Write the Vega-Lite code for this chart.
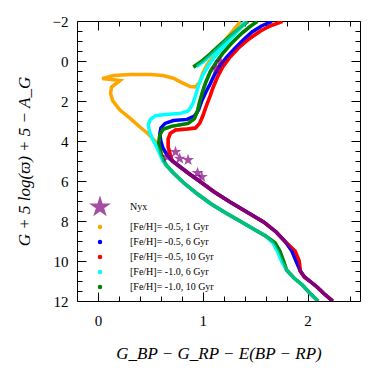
{
  "$schema": "https://vega.github.io/schema/vega-lite/v6.json",
  "width": 283,
  "height": 280,
  "autosize": {"type": "none"},
  "padding": {"left": 77, "top": 21, "right": 14, "bottom": 73},
  "config": {
    "view": {"stroke": "black", "strokeWidth": 1},
    "font": "Liberation Serif",
    "axis": {
      "domain": false, "grid": false, "tickColor": "black", "tickWidth": 1, "zindex": 1,
      "labelFont": "Liberation Serif", "labelFontSize": 15, "labelColor": "black",
      "titleFont": "Liberation Serif", "titleFontSize": 17, "titleColor": "black", "titleFontWeight": "normal",
      "labelOverlap": false, "labelFlush": false, "labelBound": false
    }
  },
  "datasets": {
    "iso1": [
      {"series":"[Fe/H]= -0.5, 1 Gyr","bprp":2.24,"mg":12.0},
      {"series":"[Fe/H]= -0.5, 1 Gyr","bprp":2.16,"mg":11.65},
      {"series":"[Fe/H]= -0.5, 1 Gyr","bprp":2.09,"mg":11.3},
      {"series":"[Fe/H]= -0.5, 1 Gyr","bprp":2.02,"mg":11.0},
      {"series":"[Fe/H]= -0.5, 1 Gyr","bprp":1.97,"mg":10.8},
      {"series":"[Fe/H]= -0.5, 1 Gyr","bprp":1.93,"mg":10.5},
      {"series":"[Fe/H]= -0.5, 1 Gyr","bprp":1.89,"mg":10.0},
      {"series":"[Fe/H]= -0.5, 1 Gyr","bprp":1.85,"mg":9.5},
      {"series":"[Fe/H]= -0.5, 1 Gyr","bprp":1.79,"mg":9.05},
      {"series":"[Fe/H]= -0.5, 1 Gyr","bprp":1.70,"mg":8.55},
      {"series":"[Fe/H]= -0.5, 1 Gyr","bprp":1.58,"mg":8.05},
      {"series":"[Fe/H]= -0.5, 1 Gyr","bprp":1.42,"mg":7.55},
      {"series":"[Fe/H]= -0.5, 1 Gyr","bprp":1.26,"mg":7.05},
      {"series":"[Fe/H]= -0.5, 1 Gyr","bprp":1.11,"mg":6.55},
      {"series":"[Fe/H]= -0.5, 1 Gyr","bprp":0.98,"mg":6.05},
      {"series":"[Fe/H]= -0.5, 1 Gyr","bprp":0.86,"mg":5.6},
      {"series":"[Fe/H]= -0.5, 1 Gyr","bprp":0.76,"mg":5.2},
      {"series":"[Fe/H]= -0.5, 1 Gyr","bprp":0.71,"mg":5.0},
      {"series":"[Fe/H]= -0.5, 1 Gyr","bprp":0.66,"mg":4.7},
      {"series":"[Fe/H]= -0.5, 1 Gyr","bprp":0.60,"mg":4.3},
      {"series":"[Fe/H]= -0.5, 1 Gyr","bprp":0.53,"mg":3.92},
      {"series":"[Fe/H]= -0.5, 1 Gyr","bprp":0.47,"mg":3.6},
      {"series":"[Fe/H]= -0.5, 1 Gyr","bprp":0.40,"mg":3.3},
      {"series":"[Fe/H]= -0.5, 1 Gyr","bprp":0.31,"mg":2.88},
      {"series":"[Fe/H]= -0.5, 1 Gyr","bprp":0.21,"mg":2.45},
      {"series":"[Fe/H]= -0.5, 1 Gyr","bprp":0.14,"mg":1.98},
      {"series":"[Fe/H]= -0.5, 1 Gyr","bprp":0.12,"mg":1.62},
      {"series":"[Fe/H]= -0.5, 1 Gyr","bprp":0.13,"mg":1.3},
      {"series":"[Fe/H]= -0.5, 1 Gyr","bprp":0.21,"mg":0.98},
      {"series":"[Fe/H]= -0.5, 1 Gyr","bprp":0.04,"mg":0.88},
      {"series":"[Fe/H]= -0.5, 1 Gyr","bprp":0.15,"mg":0.73},
      {"series":"[Fe/H]= -0.5, 1 Gyr","bprp":0.31,"mg":0.68},
      {"series":"[Fe/H]= -0.5, 1 Gyr","bprp":0.50,"mg":0.68},
      {"series":"[Fe/H]= -0.5, 1 Gyr","bprp":0.62,"mg":0.73},
      {"series":"[Fe/H]= -0.5, 1 Gyr","bprp":0.72,"mg":0.86},
      {"series":"[Fe/H]= -0.5, 1 Gyr","bprp":0.80,"mg":1.08},
      {"series":"[Fe/H]= -0.5, 1 Gyr","bprp":0.88,"mg":1.28},
      {"series":"[Fe/H]= -0.5, 1 Gyr","bprp":0.93,"mg":1.3},
      {"series":"[Fe/H]= -0.5, 1 Gyr","bprp":0.97,"mg":1.05},
      {"series":"[Fe/H]= -0.5, 1 Gyr","bprp":1.00,"mg":0.6},
      {"series":"[Fe/H]= -0.5, 1 Gyr","bprp":1.04,"mg":0.2},
      {"series":"[Fe/H]= -0.5, 1 Gyr","bprp":1.10,"mg":-0.23},
      {"series":"[Fe/H]= -0.5, 1 Gyr","bprp":1.17,"mg":-0.7},
      {"series":"[Fe/H]= -0.5, 1 Gyr","bprp":1.23,"mg":-1.15},
      {"series":"[Fe/H]= -0.5, 1 Gyr","bprp":1.30,"mg":-1.6},
      {"series":"[Fe/H]= -0.5, 1 Gyr","bprp":1.36,"mg":-1.98}
    ],
    "iso6": [
      {"series":"[Fe/H]= -0.5, 6 Gyr","bprp":2.24,"mg":12.0},
      {"series":"[Fe/H]= -0.5, 6 Gyr","bprp":2.16,"mg":11.65},
      {"series":"[Fe/H]= -0.5, 6 Gyr","bprp":2.09,"mg":11.3},
      {"series":"[Fe/H]= -0.5, 6 Gyr","bprp":2.02,"mg":11.0},
      {"series":"[Fe/H]= -0.5, 6 Gyr","bprp":1.97,"mg":10.8},
      {"series":"[Fe/H]= -0.5, 6 Gyr","bprp":1.93,"mg":10.5},
      {"series":"[Fe/H]= -0.5, 6 Gyr","bprp":1.89,"mg":10.0},
      {"series":"[Fe/H]= -0.5, 6 Gyr","bprp":1.85,"mg":9.5},
      {"series":"[Fe/H]= -0.5, 6 Gyr","bprp":1.79,"mg":9.05},
      {"series":"[Fe/H]= -0.5, 6 Gyr","bprp":1.70,"mg":8.55},
      {"series":"[Fe/H]= -0.5, 6 Gyr","bprp":1.58,"mg":8.05},
      {"series":"[Fe/H]= -0.5, 6 Gyr","bprp":1.42,"mg":7.55},
      {"series":"[Fe/H]= -0.5, 6 Gyr","bprp":1.26,"mg":7.05},
      {"series":"[Fe/H]= -0.5, 6 Gyr","bprp":1.11,"mg":6.55},
      {"series":"[Fe/H]= -0.5, 6 Gyr","bprp":0.98,"mg":6.05},
      {"series":"[Fe/H]= -0.5, 6 Gyr","bprp":0.86,"mg":5.6},
      {"series":"[Fe/H]= -0.5, 6 Gyr","bprp":0.76,"mg":5.2},
      {"series":"[Fe/H]= -0.5, 6 Gyr","bprp":0.71,"mg":5.0},
      {"series":"[Fe/H]= -0.5, 6 Gyr","bprp":0.66,"mg":4.7},
      {"series":"[Fe/H]= -0.5, 6 Gyr","bprp":0.62,"mg":4.35},
      {"series":"[Fe/H]= -0.5, 6 Gyr","bprp":0.60,"mg":4.0},
      {"series":"[Fe/H]= -0.5, 6 Gyr","bprp":0.59,"mg":3.65},
      {"series":"[Fe/H]= -0.5, 6 Gyr","bprp":0.60,"mg":3.35},
      {"series":"[Fe/H]= -0.5, 6 Gyr","bprp":0.64,"mg":3.12},
      {"series":"[Fe/H]= -0.5, 6 Gyr","bprp":0.72,"mg":2.98},
      {"series":"[Fe/H]= -0.5, 6 Gyr","bprp":0.85,"mg":2.92},
      {"series":"[Fe/H]= -0.5, 6 Gyr","bprp":0.92,"mg":2.75},
      {"series":"[Fe/H]= -0.5, 6 Gyr","bprp":0.96,"mg":2.45},
      {"series":"[Fe/H]= -0.5, 6 Gyr","bprp":0.99,"mg":2.0},
      {"series":"[Fe/H]= -0.5, 6 Gyr","bprp":1.03,"mg":1.55},
      {"series":"[Fe/H]= -0.5, 6 Gyr","bprp":1.07,"mg":1.15},
      {"series":"[Fe/H]= -0.5, 6 Gyr","bprp":1.11,"mg":0.7},
      {"series":"[Fe/H]= -0.5, 6 Gyr","bprp":1.16,"mg":0.25},
      {"series":"[Fe/H]= -0.5, 6 Gyr","bprp":1.23,"mg":-0.2},
      {"series":"[Fe/H]= -0.5, 6 Gyr","bprp":1.31,"mg":-0.65},
      {"series":"[Fe/H]= -0.5, 6 Gyr","bprp":1.39,"mg":-1.08},
      {"series":"[Fe/H]= -0.5, 6 Gyr","bprp":1.47,"mg":-1.45},
      {"series":"[Fe/H]= -0.5, 6 Gyr","bprp":1.56,"mg":-1.75},
      {"series":"[Fe/H]= -0.5, 6 Gyr","bprp":1.66,"mg":-1.98}
    ],
    "iso10": [
      {"series":"[Fe/H]= -0.5, 10 Gyr","bprp":2.24,"mg":12.0},
      {"series":"[Fe/H]= -0.5, 10 Gyr","bprp":2.16,"mg":11.65},
      {"series":"[Fe/H]= -0.5, 10 Gyr","bprp":2.09,"mg":11.3},
      {"series":"[Fe/H]= -0.5, 10 Gyr","bprp":2.02,"mg":11.0},
      {"series":"[Fe/H]= -0.5, 10 Gyr","bprp":1.97,"mg":10.8},
      {"series":"[Fe/H]= -0.5, 10 Gyr","bprp":1.93,"mg":10.5},
      {"series":"[Fe/H]= -0.5, 10 Gyr","bprp":1.92,"mg":10.0},
      {"series":"[Fe/H]= -0.5, 10 Gyr","bprp":1.88,"mg":9.5},
      {"series":"[Fe/H]= -0.5, 10 Gyr","bprp":1.79,"mg":9.05},
      {"series":"[Fe/H]= -0.5, 10 Gyr","bprp":1.70,"mg":8.55},
      {"series":"[Fe/H]= -0.5, 10 Gyr","bprp":1.58,"mg":8.05},
      {"series":"[Fe/H]= -0.5, 10 Gyr","bprp":1.42,"mg":7.55},
      {"series":"[Fe/H]= -0.5, 10 Gyr","bprp":1.26,"mg":7.05},
      {"series":"[Fe/H]= -0.5, 10 Gyr","bprp":1.11,"mg":6.55},
      {"series":"[Fe/H]= -0.5, 10 Gyr","bprp":0.98,"mg":6.05},
      {"series":"[Fe/H]= -0.5, 10 Gyr","bprp":0.86,"mg":5.6},
      {"series":"[Fe/H]= -0.5, 10 Gyr","bprp":0.76,"mg":5.2},
      {"series":"[Fe/H]= -0.5, 10 Gyr","bprp":0.71,"mg":5.0},
      {"series":"[Fe/H]= -0.5, 10 Gyr","bprp":0.69,"mg":4.7},
      {"series":"[Fe/H]= -0.5, 10 Gyr","bprp":0.67,"mg":4.3},
      {"series":"[Fe/H]= -0.5, 10 Gyr","bprp":0.67,"mg":3.9},
      {"series":"[Fe/H]= -0.5, 10 Gyr","bprp":0.69,"mg":3.62},
      {"series":"[Fe/H]= -0.5, 10 Gyr","bprp":0.74,"mg":3.45},
      {"series":"[Fe/H]= -0.5, 10 Gyr","bprp":0.85,"mg":3.4},
      {"series":"[Fe/H]= -0.5, 10 Gyr","bprp":0.93,"mg":3.35},
      {"series":"[Fe/H]= -0.5, 10 Gyr","bprp":0.97,"mg":3.12},
      {"series":"[Fe/H]= -0.5, 10 Gyr","bprp":1.00,"mg":2.75},
      {"series":"[Fe/H]= -0.5, 10 Gyr","bprp":1.03,"mg":2.3},
      {"series":"[Fe/H]= -0.5, 10 Gyr","bprp":1.07,"mg":1.75},
      {"series":"[Fe/H]= -0.5, 10 Gyr","bprp":1.10,"mg":1.3},
      {"series":"[Fe/H]= -0.5, 10 Gyr","bprp":1.14,"mg":0.8},
      {"series":"[Fe/H]= -0.5, 10 Gyr","bprp":1.19,"mg":0.3},
      {"series":"[Fe/H]= -0.5, 10 Gyr","bprp":1.26,"mg":-0.2},
      {"series":"[Fe/H]= -0.5, 10 Gyr","bprp":1.34,"mg":-0.65},
      {"series":"[Fe/H]= -0.5, 10 Gyr","bprp":1.44,"mg":-1.1},
      {"series":"[Fe/H]= -0.5, 10 Gyr","bprp":1.55,"mg":-1.5},
      {"series":"[Fe/H]= -0.5, 10 Gyr","bprp":1.64,"mg":-1.75},
      {"series":"[Fe/H]= -0.5, 10 Gyr","bprp":1.76,"mg":-1.98}
    ],
    "isoc": [
      {"series":"[Fe/H]= -1.0, 6 Gyr","branch":"rgb","bprp":2.10,"mg":12.0},
      {"series":"[Fe/H]= -1.0, 6 Gyr","branch":"rgb","bprp":2.02,"mg":11.6},
      {"series":"[Fe/H]= -1.0, 6 Gyr","branch":"rgb","bprp":1.95,"mg":11.2},
      {"series":"[Fe/H]= -1.0, 6 Gyr","branch":"rgb","bprp":1.87,"mg":10.85},
      {"series":"[Fe/H]= -1.0, 6 Gyr","branch":"rgb","bprp":1.80,"mg":10.45},
      {"series":"[Fe/H]= -1.0, 6 Gyr","branch":"rgb","bprp":1.75,"mg":10.0},
      {"series":"[Fe/H]= -1.0, 6 Gyr","branch":"rgb","bprp":1.71,"mg":9.5},
      {"series":"[Fe/H]= -1.0, 6 Gyr","branch":"rgb","bprp":1.67,"mg":9.1},
      {"series":"[Fe/H]= -1.0, 6 Gyr","branch":"rgb","bprp":1.60,"mg":8.75},
      {"series":"[Fe/H]= -1.0, 6 Gyr","branch":"rgb","bprp":1.50,"mg":8.45},
      {"series":"[Fe/H]= -1.0, 6 Gyr","branch":"rgb","bprp":1.37,"mg":8.05},
      {"series":"[Fe/H]= -1.0, 6 Gyr","branch":"rgb","bprp":1.22,"mg":7.6},
      {"series":"[Fe/H]= -1.0, 6 Gyr","branch":"rgb","bprp":1.08,"mg":7.15},
      {"series":"[Fe/H]= -1.0, 6 Gyr","branch":"rgb","bprp":0.95,"mg":6.65},
      {"series":"[Fe/H]= -1.0, 6 Gyr","branch":"rgb","bprp":0.82,"mg":6.1},
      {"series":"[Fe/H]= -1.0, 6 Gyr","branch":"rgb","bprp":0.72,"mg":5.6},
      {"series":"[Fe/H]= -1.0, 6 Gyr","branch":"rgb","bprp":0.65,"mg":5.2},
      {"series":"[Fe/H]= -1.0, 6 Gyr","branch":"rgb","bprp":0.62,"mg":5.0},
      {"series":"[Fe/H]= -1.0, 6 Gyr","branch":"rgb","bprp":0.59,"mg":4.65},
      {"series":"[Fe/H]= -1.0, 6 Gyr","branch":"rgb","bprp":0.56,"mg":4.3},
      {"series":"[Fe/H]= -1.0, 6 Gyr","branch":"rgb","bprp":0.52,"mg":3.9},
      {"series":"[Fe/H]= -1.0, 6 Gyr","branch":"rgb","bprp":0.49,"mg":3.5},
      {"series":"[Fe/H]= -1.0, 6 Gyr","branch":"rgb","bprp":0.48,"mg":3.2},
      {"series":"[Fe/H]= -1.0, 6 Gyr","branch":"rgb","bprp":0.50,"mg":2.92},
      {"series":"[Fe/H]= -1.0, 6 Gyr","branch":"rgb","bprp":0.55,"mg":2.74},
      {"series":"[Fe/H]= -1.0, 6 Gyr","branch":"rgb","bprp":0.64,"mg":2.68},
      {"series":"[Fe/H]= -1.0, 6 Gyr","branch":"rgb","bprp":0.78,"mg":2.63},
      {"series":"[Fe/H]= -1.0, 6 Gyr","branch":"rgb","bprp":0.86,"mg":2.5},
      {"series":"[Fe/H]= -1.0, 6 Gyr","branch":"rgb","bprp":0.90,"mg":2.2},
      {"series":"[Fe/H]= -1.0, 6 Gyr","branch":"rgb","bprp":0.93,"mg":1.75},
      {"series":"[Fe/H]= -1.0, 6 Gyr","branch":"rgb","bprp":0.96,"mg":1.2},
      {"series":"[Fe/H]= -1.0, 6 Gyr","branch":"rgb","bprp":1.00,"mg":0.7},
      {"series":"[Fe/H]= -1.0, 6 Gyr","branch":"rgb","bprp":1.05,"mg":0.25},
      {"series":"[Fe/H]= -1.0, 6 Gyr","branch":"rgb","bprp":1.12,"mg":-0.25},
      {"series":"[Fe/H]= -1.0, 6 Gyr","branch":"rgb","bprp":1.21,"mg":-0.78},
      {"series":"[Fe/H]= -1.0, 6 Gyr","branch":"rgb","bprp":1.30,"mg":-1.3},
      {"series":"[Fe/H]= -1.0, 6 Gyr","branch":"rgb","bprp":1.36,"mg":-1.65},
      {"series":"[Fe/H]= -1.0, 6 Gyr","branch":"rgb","bprp":1.42,"mg":-1.98},
      {"series":"[Fe/H]= -1.0, 6 Gyr","branch":"agb","bprp":0.94,"mg":0.28},
      {"series":"[Fe/H]= -1.0, 6 Gyr","branch":"agb","bprp":1.01,"mg":0.02},
      {"series":"[Fe/H]= -1.0, 6 Gyr","branch":"agb","bprp":1.10,"mg":-0.4},
      {"series":"[Fe/H]= -1.0, 6 Gyr","branch":"agb","bprp":1.19,"mg":-0.85},
      {"series":"[Fe/H]= -1.0, 6 Gyr","branch":"agb","bprp":1.28,"mg":-1.3},
      {"series":"[Fe/H]= -1.0, 6 Gyr","branch":"agb","bprp":1.36,"mg":-1.7},
      {"series":"[Fe/H]= -1.0, 6 Gyr","branch":"agb","bprp":1.40,"mg":-1.98}
    ],
    "isog": [
      {"series":"[Fe/H]= -1.0, 10 Gyr","branch":"rgb","bprp":2.10,"mg":12.0},
      {"series":"[Fe/H]= -1.0, 10 Gyr","branch":"rgb","bprp":2.02,"mg":11.6},
      {"series":"[Fe/H]= -1.0, 10 Gyr","branch":"rgb","bprp":1.95,"mg":11.2},
      {"series":"[Fe/H]= -1.0, 10 Gyr","branch":"rgb","bprp":1.87,"mg":10.85},
      {"series":"[Fe/H]= -1.0, 10 Gyr","branch":"rgb","bprp":1.80,"mg":10.45},
      {"series":"[Fe/H]= -1.0, 10 Gyr","branch":"rgb","bprp":1.77,"mg":10.0},
      {"series":"[Fe/H]= -1.0, 10 Gyr","branch":"rgb","bprp":1.735,"mg":9.5},
      {"series":"[Fe/H]= -1.0, 10 Gyr","branch":"rgb","bprp":1.69,"mg":9.1},
      {"series":"[Fe/H]= -1.0, 10 Gyr","branch":"rgb","bprp":1.60,"mg":8.75},
      {"series":"[Fe/H]= -1.0, 10 Gyr","branch":"rgb","bprp":1.50,"mg":8.45},
      {"series":"[Fe/H]= -1.0, 10 Gyr","branch":"rgb","bprp":1.37,"mg":8.05},
      {"series":"[Fe/H]= -1.0, 10 Gyr","branch":"rgb","bprp":1.22,"mg":7.6},
      {"series":"[Fe/H]= -1.0, 10 Gyr","branch":"rgb","bprp":1.08,"mg":7.15},
      {"series":"[Fe/H]= -1.0, 10 Gyr","branch":"rgb","bprp":0.95,"mg":6.65},
      {"series":"[Fe/H]= -1.0, 10 Gyr","branch":"rgb","bprp":0.82,"mg":6.1},
      {"series":"[Fe/H]= -1.0, 10 Gyr","branch":"rgb","bprp":0.72,"mg":5.6},
      {"series":"[Fe/H]= -1.0, 10 Gyr","branch":"rgb","bprp":0.65,"mg":5.2},
      {"series":"[Fe/H]= -1.0, 10 Gyr","branch":"rgb","bprp":0.63,"mg":5.0},
      {"series":"[Fe/H]= -1.0, 10 Gyr","branch":"rgb","bprp":0.60,"mg":4.6},
      {"series":"[Fe/H]= -1.0, 10 Gyr","branch":"rgb","bprp":0.58,"mg":4.1},
      {"series":"[Fe/H]= -1.0, 10 Gyr","branch":"rgb","bprp":0.59,"mg":3.7},
      {"series":"[Fe/H]= -1.0, 10 Gyr","branch":"rgb","bprp":0.62,"mg":3.42},
      {"series":"[Fe/H]= -1.0, 10 Gyr","branch":"rgb","bprp":0.70,"mg":3.27},
      {"series":"[Fe/H]= -1.0, 10 Gyr","branch":"rgb","bprp":0.86,"mg":3.12},
      {"series":"[Fe/H]= -1.0, 10 Gyr","branch":"rgb","bprp":0.92,"mg":2.88},
      {"series":"[Fe/H]= -1.0, 10 Gyr","branch":"rgb","bprp":0.95,"mg":2.5},
      {"series":"[Fe/H]= -1.0, 10 Gyr","branch":"rgb","bprp":0.97,"mg":2.05},
      {"series":"[Fe/H]= -1.0, 10 Gyr","branch":"rgb","bprp":1.00,"mg":1.5},
      {"series":"[Fe/H]= -1.0, 10 Gyr","branch":"rgb","bprp":1.03,"mg":1.05},
      {"series":"[Fe/H]= -1.0, 10 Gyr","branch":"rgb","bprp":1.07,"mg":0.55},
      {"series":"[Fe/H]= -1.0, 10 Gyr","branch":"rgb","bprp":1.13,"mg":0.05},
      {"series":"[Fe/H]= -1.0, 10 Gyr","branch":"rgb","bprp":1.20,"mg":-0.45},
      {"series":"[Fe/H]= -1.0, 10 Gyr","branch":"rgb","bprp":1.28,"mg":-0.92},
      {"series":"[Fe/H]= -1.0, 10 Gyr","branch":"rgb","bprp":1.38,"mg":-1.42},
      {"series":"[Fe/H]= -1.0, 10 Gyr","branch":"rgb","bprp":1.45,"mg":-1.72},
      {"series":"[Fe/H]= -1.0, 10 Gyr","branch":"rgb","bprp":1.52,"mg":-1.98},
      {"series":"[Fe/H]= -1.0, 10 Gyr","branch":"agb","bprp":0.91,"mg":0.3},
      {"series":"[Fe/H]= -1.0, 10 Gyr","branch":"agb","bprp":0.98,"mg":0.05},
      {"series":"[Fe/H]= -1.0, 10 Gyr","branch":"agb","bprp":1.07,"mg":-0.35},
      {"series":"[Fe/H]= -1.0, 10 Gyr","branch":"agb","bprp":1.16,"mg":-0.78},
      {"series":"[Fe/H]= -1.0, 10 Gyr","branch":"agb","bprp":1.25,"mg":-1.2},
      {"series":"[Fe/H]= -1.0, 10 Gyr","branch":"agb","bprp":1.34,"mg":-1.6},
      {"series":"[Fe/H]= -1.0, 10 Gyr","branch":"agb","bprp":1.43,"mg":-1.98}
    ],
    "nyx": [
      {"series":"Nyx","bprp":0.66,"mg":4.8},
      {"series":"Nyx","bprp":0.74,"mg":4.55},
      {"series":"Nyx","bprp":0.78,"mg":4.88},
      {"series":"Nyx","bprp":0.86,"mg":4.95},
      {"series":"Nyx","bprp":0.95,"mg":5.6},
      {"series":"Nyx","bprp":0.99,"mg":5.8},
      {"series":"Nyx","bprp":1.13,"mg":0.4},
      {"series":"Nyx","bprp":1.17,"mg":0.05}
    ]
  },
  "encoding": {
    "x": {"field": "bprp", "type": "quantitative", "scale": {"domain": [-0.2, 2.5], "nice": false, "zero": false}, "axis": null},
    "y": {"field": "mg", "type": "quantitative", "scale": {"domain": [-2, 12], "reverse": true, "nice": false, "zero": false}, "axis": null},
    "color": {
      "field": "series", "type": "nominal",
      "scale": {
        "domain": ["Nyx", "[Fe/H]= -0.5, 1 Gyr", "[Fe/H]= -0.5, 6 Gyr", "[Fe/H]= -0.5, 10 Gyr", "[Fe/H]= -1.0, 6 Gyr", "[Fe/H]= -1.0, 10 Gyr"],
        "range": ["#800080", "#FFA500", "#0000FF", "#FF0000", "#00FFFF", "#008000"]
      },
      "legend": {
        "title": null, "orient": "none", "legendX": 18, "legendY": 181, "padding": 0,
        "symbolType": "circle", "symbolSize": 20, "symbolStrokeWidth": 0,
        "labelFont": "Liberation Serif", "labelFontSize": 10, "labelColor": "black",
        "labelOffset": 25, "rowPadding": 5, "labelLimit": 200,
        "encode": {"symbols": {"update": {
          "shape": {"signal": "datum.value === 'Nyx' ? 'M0,-1L0.225,-0.309L0.951,-0.309L0.363,0.118L0.588,0.809L0,0.382L-0.588,0.809L-0.363,0.118L-0.951,-0.309L-0.225,-0.309Z' : 'circle'"},
          "size": {"signal": "datum.value === 'Nyx' ? 530 : 20"},
          "fill": {"scale": "color", "field": "value"},
          "fillOpacity": {"signal": "datum.value === 'Nyx' ? 0.7 : 1"},
          "strokeWidth": {"value": 0},
          "opacity": {"value": 1}
        }}}
      }
    },
    "order": {"value": null}
  },
  "layer": [
    {
      "data": {"name": "iso1"},
      "mark": {"type": "line", "strokeWidth": 3.5, "clip": true},
      "encoding": {
        "x": {"field": "bprp", "type": "quantitative", "scale": {"domain": [-0.2, 2.5], "nice": false, "zero": false},
          "axis": {"orient": "bottom", "values": [0, 1, 2], "tickSize": -9, "format": "d",
            "labelPadding": 21,
            "title": "G_BP − G_RP − E(BP − RP)", "titleFontStyle": "italic",
            "titleX": 141.5, "titleY": 52, "titleBaseline": "middle", "titleAlign": "center"}},
        "y": {"field": "mg", "type": "quantitative", "scale": {"domain": [-2, 12], "reverse": true, "nice": false, "zero": false},
          "axis": {"orient": "left", "values": [-2, 0, 2, 4, 6, 8, 10, 12], "tickSize": -9, "format": "d",
            "labelPadding": 18,
            "title": "G + 5 log(ϖ) + 5 − A_G", "titleFontStyle": "italic",
            "titleX": -53, "titleY": 140, "titleBaseline": "middle", "titleAlign": "center", "titleAngle": -90}}
      }
    },
    {
      "data": {"name": "iso10"},
      "mark": {"type": "line", "strokeWidth": 3.5, "clip": true},
      "encoding": {
        "x": {"field": "bprp", "type": "quantitative", "scale": {"domain": [-0.2, 2.5], "nice": false, "zero": false},
          "axis": {"orient": "top", "values": [0, 1, 2], "tickSize": -9, "labels": false, "title": null}},
        "y": {"field": "mg", "type": "quantitative", "scale": {"domain": [-2, 12], "reverse": true, "nice": false, "zero": false},
          "axis": {"orient": "right", "values": [-2, 0, 2, 4, 6, 8, 10, 12], "tickSize": -9, "labels": false, "title": null}}
      }
    },
    {
      "data": {"name": "iso6"},
      "mark": {"type": "line", "strokeWidth": 3.5, "clip": true},
      "encoding": {
        "x": {"field": "bprp", "type": "quantitative", "scale": {"domain": [-0.2, 2.5], "nice": false, "zero": false},
          "axis": {"orient": "bottom", "values": [0.2, 0.4, 0.6, 0.8, 1.2, 1.4, 1.6, 1.8, 2.2, 2.4], "tickSize": -5, "labels": false, "title": null}},
        "y": {"field": "mg", "type": "quantitative", "scale": {"domain": [-2, 12], "reverse": true, "nice": false, "zero": false},
          "axis": {"orient": "left", "values": [-1.5, -1, -0.5, 0.5, 1, 1.5, 2.5, 3, 3.5, 4.5, 5, 5.5, 6.5, 7, 7.5, 8.5, 9, 9.5, 10.5, 11, 11.5], "tickSize": -5, "labels": false, "title": null}}
      }
    },
    {
      "data": {"name": "isog"},
      "mark": {"type": "line", "strokeWidth": 3.5, "clip": true},
      "encoding": {
        "detail": {"field": "branch", "type": "nominal"},
        "x": {"field": "bprp", "type": "quantitative", "scale": {"domain": [-0.2, 2.5], "nice": false, "zero": false},
          "axis": {"orient": "top", "values": [0.2, 0.4, 0.6, 0.8, 1.2, 1.4, 1.6, 1.8, 2.2, 2.4], "tickSize": -5, "labels": false, "title": null}},
        "y": {"field": "mg", "type": "quantitative", "scale": {"domain": [-2, 12], "reverse": true, "nice": false, "zero": false},
          "axis": {"orient": "right", "values": [-1.5, -1, -0.5, 0.5, 1, 1.5, 2.5, 3, 3.5, 4.5, 5, 5.5, 6.5, 7, 7.5, 8.5, 9, 9.5, 10.5, 11, 11.5], "tickSize": -5, "labels": false, "title": null}}
      }
    },
    {
      "data": {"name": "isoc"},
      "mark": {"type": "line", "strokeWidth": 3.5, "clip": true},
      "encoding": {"detail": {"field": "branch", "type": "nominal"}}
    },
    {
      "data": {"name": "iso10"},
      "mark": {"type": "line", "strokeWidth": 3.5, "clip": true, "opacity": 0.5},
      "encoding": {}
    },
    {
      "data": {"name": "isog"},
      "mark": {"type": "line", "strokeWidth": 3.5, "clip": true, "opacity": 0.5},
      "encoding": {"detail": {"field": "branch", "type": "nominal"}}
    },
    {
      "data": {"name": "nyx"},
      "mark": {"type": "point", "shape": "M0,-1L0.225,-0.309L0.951,-0.309L0.363,0.118L0.588,0.809L0,0.382L-0.588,0.809L-0.363,0.118L-0.951,-0.309L-0.225,-0.309Z", "filled": true, "size": 160, "opacity": 0.7, "strokeWidth": 0, "clip": true},
      "encoding": {}
    }
  ],
  "resolve": {"axis": {"x": "independent", "y": "independent"}}
}
